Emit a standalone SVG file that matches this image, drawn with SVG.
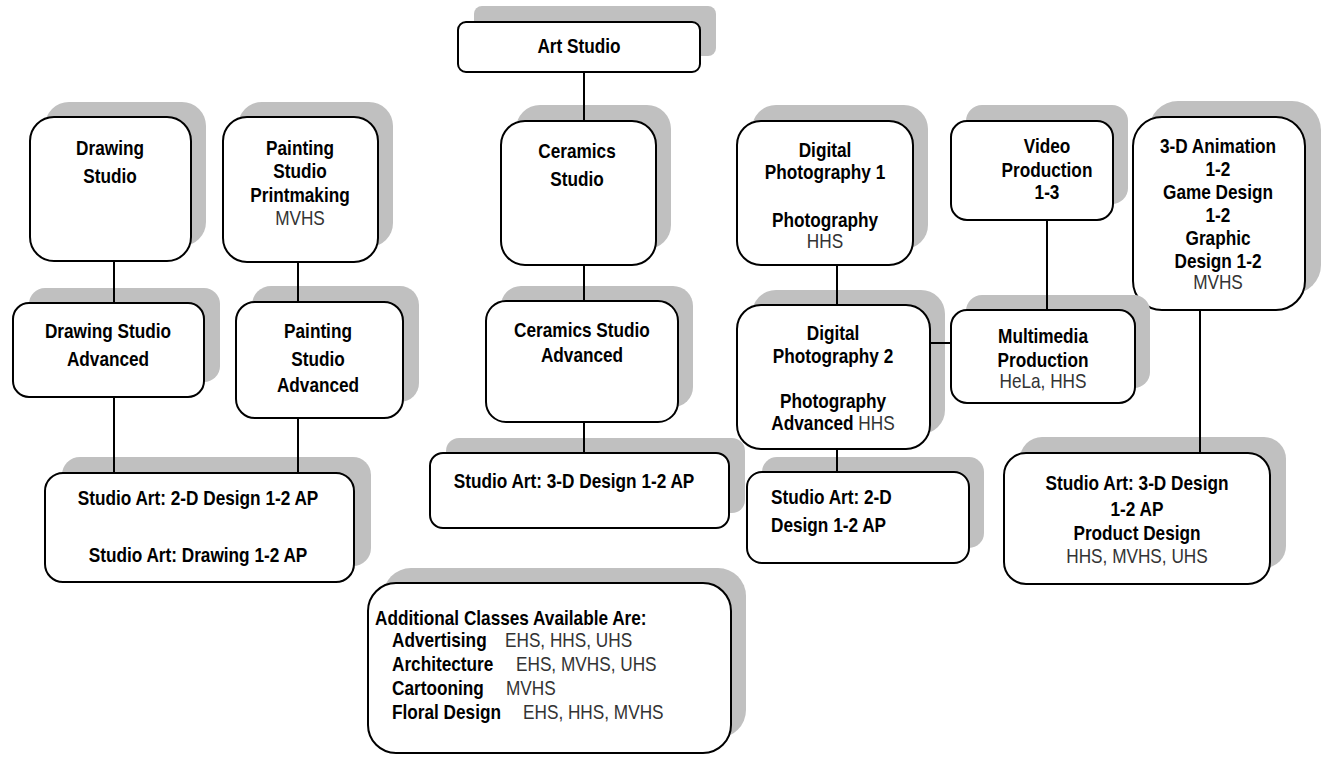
<svg xmlns="http://www.w3.org/2000/svg" width="1323" height="761" viewBox="0 0 1323 761">
<defs>
<style>
.sh{fill:#c0c0c0;stroke:none}
.bx{fill:#fff;stroke:#000;stroke-width:2}
text{font-family:'Liberation Sans',Arial,sans-serif;font-size:21px;fill:#000;transform-box:fill-box;transform-origin:center;transform:scaleX(0.82)}
.b{font-weight:bold}
.c{text-anchor:middle}
.l{transform-origin:left center}
.n{font-weight:normal;fill:#333}
.cn{stroke:#000;stroke-width:2;fill:none}
</style>
</defs>
<rect width="1323" height="761" fill="#fff"/>
<g id="art-studio">
<rect class="sh" x="474" y="6" width="242" height="50" rx="8"/>
<rect class="bx" x="458" y="22" width="242" height="50" rx="8"/>
<text class="b c" x="579" y="53">Art Studio</text>
</g>
<g id="drawing-studio">
<rect class="sh" x="45" y="102" width="161" height="144" rx="24"/>
<rect class="bx" x="30" y="117" width="161" height="144" rx="24"/>
<text class="b c" x="110" y="155">Drawing</text>
<text class="b c" x="110" y="183">Studio</text>
</g>
<g id="painting-studio">
<rect class="sh" x="238" y="102" width="155" height="145" rx="24"/>
<rect class="bx" x="223" y="117" width="155" height="145" rx="24"/>
<text class="b c" x="300" y="155">Painting</text>
<text class="b c" x="300" y="178">Studio</text>
<text class="b c" x="300" y="202">Printmaking</text>
<text class="n c" x="300" y="225">MVHS</text>
</g>
<g id="ceramics-studio">
<rect class="sh" x="516" y="105" width="155" height="144" rx="24"/>
<rect class="bx" x="501" y="121" width="155" height="144" rx="24"/>
<text class="b c" x="577" y="158">Ceramics</text>
<text class="b c" x="577" y="186">Studio</text>
</g>
<g id="digital-photography-1">
<rect class="sh" x="752" y="105" width="176" height="144" rx="24"/>
<rect class="bx" x="737" y="121" width="176" height="144" rx="24"/>
<text class="b c" x="825" y="157">Digital</text>
<text class="b c" x="825" y="179">Photography 1</text>
<text class="b c" x="825" y="227">Photography</text>
<text class="n c" x="825" y="248">HHS</text>
</g>
<g id="video-production">
<rect class="sh" x="966" y="105" width="162" height="99" rx="16"/>
<rect class="bx" x="951" y="121" width="162" height="99" rx="16"/>
<text class="b c" x="1047" y="153">Video</text>
<text class="b c" x="1047" y="177">Production</text>
<text class="b c" x="1047" y="199">1-3</text>
</g>
<g id="animation-game-graphic">
<rect class="sh" x="1149" y="101" width="172" height="193" rx="29"/>
<rect class="bx" x="1133" y="117" width="172" height="193" rx="29"/>
<text class="b c" x="1218" y="153">3-D Animation</text>
<text class="b c" x="1218" y="176">1-2</text>
<text class="b c" x="1218" y="199">Game Design</text>
<text class="b c" x="1218" y="222">1-2</text>
<text class="b c" x="1218" y="245">Graphic</text>
<text class="b c" x="1218" y="268">Design 1-2</text>
<text class="n c" x="1218" y="289">MVHS</text>
</g>
<g id="drawing-studio-advanced">
<rect class="sh" x="29" y="288" width="191" height="94" rx="16"/>
<rect class="bx" x="13" y="303" width="191" height="94" rx="16"/>
<text class="b c" x="108" y="338">Drawing Studio</text>
<text class="b c" x="108" y="366">Advanced</text>
</g>
<g id="painting-studio-advanced">
<rect class="sh" x="252" y="286" width="167" height="116" rx="19"/>
<rect class="bx" x="236" y="302" width="167" height="116" rx="19"/>
<text class="b c" x="318" y="338">Painting</text>
<text class="b c" x="318" y="366">Studio</text>
<text class="b c" x="318" y="392">Advanced</text>
</g>
<g id="ceramics-studio-advanced">
<rect class="sh" x="501" y="286" width="192" height="121" rx="20"/>
<rect class="bx" x="486" y="301" width="192" height="121" rx="20"/>
<text class="b c" x="582" y="337">Ceramics Studio</text>
<text class="b c" x="582" y="362">Advanced</text>
</g>
<g id="digital-photography-2">
<rect class="sh" x="752" y="290" width="193" height="144" rx="24"/>
<rect class="bx" x="737" y="305" width="193" height="144" rx="24"/>
<text class="b c" x="833" y="340">Digital</text>
<text class="b c" x="833" y="363">Photography 2</text>
<text class="b c" x="833" y="408">Photography</text>
<text class="b c" x="833" y="430">Advanced<tspan class="n"> HHS</tspan></text>
</g>
<g id="multimedia-production">
<rect class="sh" x="966" y="295" width="184" height="93" rx="16"/>
<rect class="bx" x="951" y="310" width="184" height="93" rx="16"/>
<text class="b c" x="1043" y="343">Multimedia</text>
<text class="b c" x="1043" y="367">Production</text>
<text class="n c" x="1043" y="388">HeLa, HHS</text>
</g>
<g id="studio-art-2d-drawing">
<rect class="sh" x="62" y="457" width="309" height="109" rx="18"/>
<rect class="bx" x="45" y="473" width="309" height="109" rx="18"/>
<text class="b c" x="198" y="505">Studio Art: 2-D Design 1-2 AP</text>
<text class="b c" x="198" y="562">Studio Art: Drawing 1-2 AP</text>
</g>
<g id="studio-art-3d-mid">
<rect class="sh" x="446" y="438" width="299" height="75" rx="13"/>
<rect class="bx" x="430" y="453" width="299" height="75" rx="13"/>
<text class="b c" x="574" y="488">Studio Art: 3-D Design 1-2 AP</text>
</g>
<g id="studio-art-2d-right">
<rect class="sh" x="762" y="457" width="222" height="91" rx="15"/>
<rect class="bx" x="747" y="472" width="222" height="91" rx="15"/>
<text class="b l" x="771" y="504">Studio Art: 2-D</text>
<text class="b l" x="771" y="532">Design 1-2 AP</text>
</g>
<g id="studio-art-3d-product">
<rect class="sh" x="1020" y="437" width="266" height="131" rx="22"/>
<rect class="bx" x="1004" y="453" width="266" height="131" rx="22"/>
<text class="b c" x="1137" y="490">Studio Art: 3-D Design</text>
<text class="b c" x="1137" y="516">1-2 AP</text>
<text class="b c" x="1137" y="540">Product Design</text>
<text class="n c" x="1137" y="563">HHS, MVHS, UHS</text>
</g>
<g id="additional-classes">
<rect class="sh" x="383" y="568" width="363" height="170" rx="28"/>
<rect class="bx" x="368" y="583" width="363" height="170" rx="28"/>
<text class="b l" x="375" y="625">Additional Classes Available Are:</text>
<text class="b l" x="392" y="647">Advertising</text>
<text class="n l" x="505" y="647">EHS, HHS, UHS</text>
<text class="b l" x="392" y="671">Architecture</text>
<text class="n l" x="516" y="671">EHS, MVHS, UHS</text>
<text class="b l" x="392" y="695">Cartooning</text>
<text class="n l" x="506" y="695">MVHS</text>
<text class="b l" x="392" y="719">Floral Design</text>
<text class="n l" x="523" y="719">EHS, HHS, MVHS</text>
</g>
<g id="connectors">
<line class="cn" x1="584" y1="72" x2="584" y2="121"/>
<line class="cn" x1="584" y1="265" x2="584" y2="301"/>
<line class="cn" x1="584" y1="422" x2="584" y2="453"/>
<line class="cn" x1="114" y1="261" x2="114" y2="303"/>
<line class="cn" x1="298" y1="262" x2="298" y2="302"/>
<line class="cn" x1="114" y1="397" x2="114" y2="473"/>
<line class="cn" x1="298" y1="418" x2="298" y2="473"/>
<line class="cn" x1="837" y1="265" x2="837" y2="305"/>
<line class="cn" x1="837" y1="449" x2="837" y2="472"/>
<line class="cn" x1="930" y1="343" x2="951" y2="343"/>
<line class="cn" x1="1047" y1="220" x2="1047" y2="310"/>
<line class="cn" x1="1200" y1="310" x2="1200" y2="453"/>
</g>
</svg>
